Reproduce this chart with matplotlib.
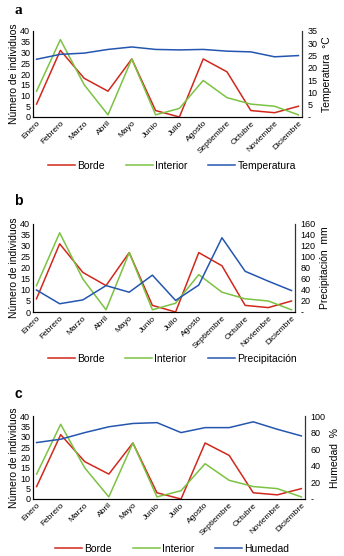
import numpy as np
import matplotlib
matplotlib.use('Agg')
import matplotlib.pyplot as plt
from matplotlib.ticker import FuncFormatter

meses = ['Enero', 'Febrero', 'Marzo', 'Abril', 'Mayo', 'Junio', 'Julio',
         'Agosto', 'Septiembre', 'Octubre', 'Noviembre', 'Diciembre']
borde = [6, 31, 18, 12, 27, 3, 0, 27, 21, 3, 2, 5]
interior = [12, 36, 15, 1, 27, 1, 4, 17, 9, 6, 5, 1]
temperatura = [23.5, 25.5, 26, 27.5, 28.5, 27.5, 27.3, 27.5, 26.8, 26.5, 24.5, 25]
precipitacion = [40, 15, 22, 48, 36, 67, 21, 49, 135, 74, 56, 39]
humedad = [68, 72, 80, 87, 91, 92, 80, 86, 86, 93, 84, 76]

ROJO = '#d0281c'
VERDE = '#7cc242'
AZUL = '#2456b0'

W, H = 344, 556
fig = plt.figure(figsize=(W / 100, H / 100), dpi=100)
plt.rcParams['font.family'] = 'Liberation Sans'


def px(x0, y0, x1, y1):
    # pixel box -> figure fraction
    return [x0 / W, 1 - y1 / H, (x1 - x0) / W, (y1 - y0) / H]


def dash(v, pos):
    return '-' if v == 0 else '%d' % v


def panel(box, letra, letra_y, serie, nombre, ymax, paso, leg_y, serif=False):
    ax = fig.add_axes(px(*box))
    x = np.arange(len(meses))
    l1, = ax.plot(x, borde, color=ROJO, lw=1.1)
    l2, = ax.plot(x, interior, color=VERDE, lw=1.1)
    ax.set_ylim(0, 40)
    ax.set_yticks(range(0, 41, 5))
    ax.set_xlim(-0.15, 11.15)
    ax.set_xticks(x)
    ax.set_xticklabels(meses, rotation=45, ha='right', rotation_mode='anchor', fontsize=6)
    ax.tick_params(axis='y', labelsize=6.5, length=0, pad=2)
    ax.tick_params(axis='x', length=0, pad=2)
    ax.set_ylabel('Número de individuos', fontsize=7.5, labelpad=1)
    ax.spines['top'].set_visible(False)
    for s in ['left', 'bottom']:
        ax.spines[s].set_color('#333333')
        ax.spines[s].set_linewidth(0.8)

    ax2 = ax.twinx()
    l3, = ax2.plot(x, serie, color=AZUL, lw=1.1)
    ax2.set_ylim(0, ymax)
    ax2.set_yticks(np.arange(0, ymax + 1, paso))
    ax2.yaxis.set_major_formatter(FuncFormatter(dash))
    ax2.tick_params(axis='y', labelsize=6.5, length=0, pad=4)
    ax2.set_ylabel(nombre, fontsize=7.5, labelpad=3)
    ax2.spines['top'].set_visible(False)
    ax2.spines['right'].set_color('#333333')
    ax2.spines['right'].set_linewidth(0.8)

    if serif:
        fig.text(14 / W, 1 - letra_y / H, letra, fontsize=11, fontweight='bold',
                 family='Liberation Serif', va='center')
    else:
        fig.text(14 / W, 1 - letra_y / H, letra, fontsize=10, fontweight='bold', va='center')

    fig.legend([l1, l2, l3], ['Borde', 'Interior', nombre.split()[0]],
               loc='center', bbox_to_anchor=(0.5, 1 - leg_y / H), ncol=3,
               frameon=False, fontsize=7.5, handlelength=2.6, columnspacing=2.0,
               handletextpad=0.2)


panel((33, 31, 302, 117), 'a', 10, temperatura, 'Temperatura  °C', 35, 5, 166, serif=True)
panel((33, 224, 295, 312), 'b', 201, precipitacion, 'Precipitación  mm', 160, 20, 359)
panel((33, 416, 305, 499), 'c', 394, humedad, 'Humedad  %', 100, 20, 549)

fig.savefig('out.png', dpi=100)
